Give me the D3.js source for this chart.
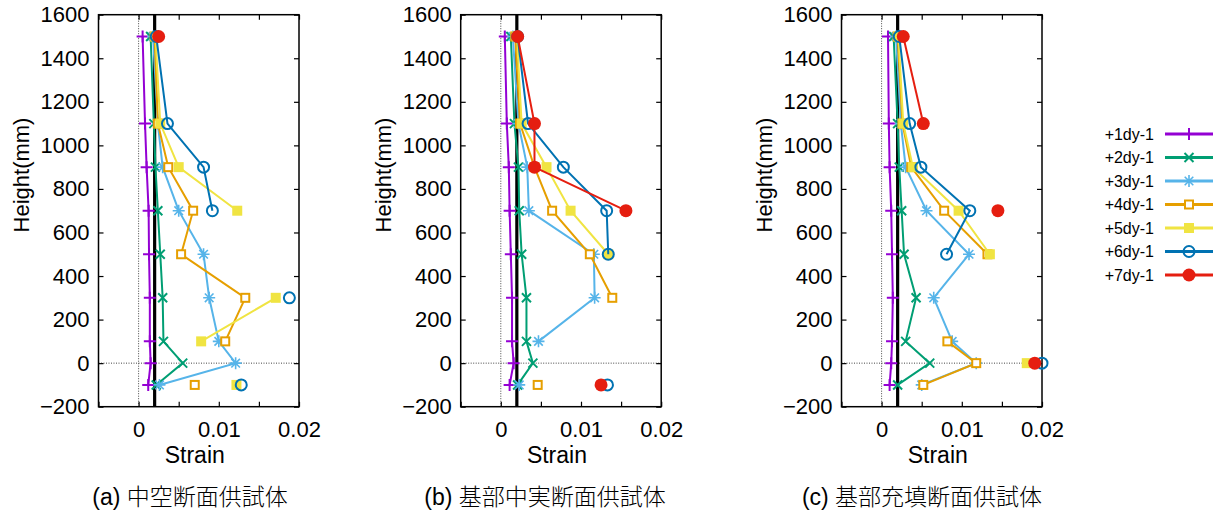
<!DOCTYPE html>
<html>
<head>
<meta charset="utf-8">
<script src="https://cdn.jsdelivr.net/npm/d3@7"></script>
<style>
  html, body { margin: 0; padding: 0; background: #fff; }
  svg { display: block; }
  text { font-family: "Liberation Sans", Arial, "Noto Sans CJK JP", sans-serif; fill: #000; }
  .caption { font-weight: 300; }
</style>
</head>
<body>
<script>
// ---- data ----
const heights = [1500, 1100, 900, 700, 500, 300, 100, 0, -100];
const seriesNames = ["+1dy-1", "+2dy-1", "+3dy-1", "+4dy-1", "+5dy-1", "+6dy-1", "+7dy-1"];
const yTickValues = [-200, 0, 200, 400, 600, 800, 1000, 1200, 1400, 1600];
const xTickValues = [-0.005, 0, 0.005, 0.01, 0.015, 0.02];
const xTickLabels = ["", "0", "", "0.01", "", "0.02"];
const yieldStrain = 0.002;

// (a) 中空断面供試体
const strainA = [
  [0.0005, 0.0008, 0.001, 0.00125, 0.0013, 0.0014, 0.0014, 0.0015, 0.0012],
  [0.0015, 0.0019, 0.0021, 0.0024, 0.0027, 0.003, 0.0031, 0.0055, 0.0022],
  [0.0018, 0.0024, 0.003, 0.005, 0.0081, 0.0088, 0.01, 0.0121, 0.0026],
  [0.002, 0.0024, 0.0037, 0.0068, 0.0053, 0.0133, 0.0108, null, 0.007],
  [0.0021, 0.0027, 0.005, 0.0123, null, 0.0171, 0.0078, null, 0.0122],
  [0.0022, 0.0036, 0.0081, 0.0092, null, 0.0188, null, null, 0.0128],
  [0.0025, null, null, null, null, null, null, null, null]
];
// (b) 基部中実断面供試体
const strainB = [
  [0.0005, 0.00075, 0.001, 0.0011, 0.00125, 0.0014, 0.0014, 0.0016, 0.0011],
  [0.00125, 0.0017, 0.0022, 0.0023, 0.0026, 0.0032, 0.0032, 0.004, 0.0021],
  [0.0015, 0.0022, 0.0033, 0.0035, 0.0116, 0.0117, 0.0047, null, 0.0023],
  [0.0018, 0.0024, 0.0042, 0.0064, 0.0111, 0.0139, null, null, 0.0046],
  [0.002, 0.0026, 0.0057, 0.0087, 0.0134, null, null, null, null],
  [0.0021, 0.0034, 0.0078, 0.0132, 0.0134, null, null, null, 0.0133],
  [0.0021, 0.0042, 0.0042, 0.0156, null, null, null, null, 0.0125]
];
// (c) 基部充填断面供試体
const strainC = [
  [0.0008, 0.0009, 0.001, 0.0012, 0.0013, 0.0014, 0.0013, 0.0012, 0.001],
  [0.0015, 0.002, 0.0022, 0.0025, 0.0028, 0.0043, 0.003, 0.006, 0.002],
  [0.0018, 0.0024, 0.003, 0.0056, 0.0109, 0.0065, 0.0088, 0.0118, 0.005],
  [0.002, 0.0026, 0.0037, 0.0078, 0.0132, null, 0.0082, 0.0118, 0.0052],
  [0.0021, 0.0027, 0.0039, 0.0096, 0.0135, null, null, 0.0181, null],
  [0.0022, 0.0035, 0.0049, 0.011, 0.0081, null, null, 0.02, null],
  [0.0027, 0.0052, null, 0.0145, null, null, null, 0.0191, null]
];
const panelData = [strainA, strainB, strainC];
const panelTitles = ["(a) 中空断面供試体", "(b) 基部中実断面供試体", "(c) 基部充填断面供試体"];

// ---- styles / layout ----
const colors = ["#9400d3", "#009e73", "#56b4e9", "#e69f00", "#f0e442", "#0072b2", "#e51e10"];
const width = 1221, height = 513;
const panelLeft = [98.5, 460.7, 841.5];
const titleX = [190, 545, 922];
const plotW = 200.5, plotTop = 14.7, plotH = 392;

const svg = d3.select("body").append("svg")
  .attr("width", width)
  .attr("height", height)
  .attr("viewBox", [0, 0, width, height]);

// marker drawing (gnuplot style point types 1..7)
function drawMarker(g, type, color) {
  const sw = 2;
  if (type === 0) { // plus
    g.append("path").attr("d", "M-6,0H6M0,-6V6").attr("stroke", color).attr("stroke-width", sw).attr("fill", "none");
  } else if (type === 1) { // cross
    g.append("path").attr("d", "M-4.5,-4.5L4.5,4.5M-4.5,4.5L4.5,-4.5").attr("stroke", color).attr("stroke-width", sw).attr("fill", "none");
  } else if (type === 2) { // star
    g.append("path").attr("d", "M-6,0H6M0,-6V6M-4.3,-4.3L4.3,4.3M-4.3,4.3L4.3,-4.3").attr("stroke", color).attr("stroke-width", 1.6).attr("fill", "none");
  } else if (type === 3) { // open square
    g.append("rect").attr("x", -4).attr("y", -4).attr("width", 8).attr("height", 8)
      .attr("stroke", color).attr("stroke-width", sw).attr("fill", "#fff");
  } else if (type === 4) { // filled square
    g.append("rect").attr("x", -5).attr("y", -5).attr("width", 10).attr("height", 10).attr("fill", color);
  } else if (type === 5) { // open circle
    g.append("circle").attr("r", 5.5).attr("stroke", color).attr("stroke-width", sw).attr("fill", "none");
  } else { // filled circle
    g.append("circle").attr("r", 6.5).attr("fill", color);
  }
}

panelData.forEach((series, pi) => {
  const x0 = panelLeft[pi];
  const x = d3.scaleLinear().domain([-0.005, 0.02]).range([x0, x0 + plotW]);
  const y = d3.scaleLinear().domain([-200, 1600]).range([plotTop + plotH, plotTop]);
  const g = svg.append("g").attr("class", "panel");

  // zero reference lines (dotted)
  g.append("line")
    .attr("x1", x(0)).attr("x2", x(0)).attr("y1", y(-200)).attr("y2", y(1600))
    .attr("stroke", "#444").attr("stroke-width", 1).attr("stroke-dasharray", "1,1.5");
  g.append("line")
    .attr("x1", x(-0.005)).attr("x2", x(0.02)).attr("y1", y(0)).attr("y2", y(0))
    .attr("stroke", "#444").attr("stroke-width", 1).attr("stroke-dasharray", "1,1.5");

  // yield strain line
  g.append("line")
    .attr("x1", x(yieldStrain)).attr("x2", x(yieldStrain)).attr("y1", y(-200)).attr("y2", y(1600))
    .attr("stroke", "#000").attr("stroke-width", 3.2);

  // axes (ticks inside)
  const fmtX = d => {
    const i = xTickValues.findIndex(v => Math.abs(v - d) < 1e-9);
    return i >= 0 ? xTickLabels[i] : "";
  };
  const axB = g.append("g").attr("transform", `translate(0,${y(-200)})`)
    .call(d3.axisBottom(x).tickValues(xTickValues).tickSize(-5).tickPadding(15).tickFormat(fmtX));
  const axL = g.append("g").attr("transform", `translate(${x(-0.005)},0)`)
    .call(d3.axisLeft(y).tickValues(yTickValues).tickSize(-5).tickPadding(9).tickFormat(d3.format("d")));
  g.append("g").attr("transform", `translate(0,${y(1600)})`)
    .call(d3.axisTop(x).tickValues(xTickValues).tickSize(-5).tickFormat(""));
  g.append("g").attr("transform", `translate(${x(0.02)},0)`)
    .call(d3.axisRight(y).tickValues(yTickValues).tickSize(-5).tickFormat(""));
  g.selectAll(".domain").remove();
  g.selectAll(".tick line").attr("stroke", "#000").attr("stroke-width", 1.2);
  axB.selectAll("text").style("font-size", "22px").attr("font-family", null);
  axL.selectAll("text").style("font-size", "22px").attr("font-family", null);

  g.append("rect")
    .attr("x", x(-0.005)).attr("y", y(1600))
    .attr("width", x(0.02) - x(-0.005)).attr("height", y(-200) - y(1600))
    .attr("fill", "none").attr("stroke", "#000").attr("stroke-width", 1.5);

  // data series
  const line = d3.line()
    .defined(d => d.v != null)
    .x(d => x(d.v))
    .y(d => y(d.h));

  series.forEach((vals, si) => {
    const pts = vals.map((v, i) => ({ v: v, h: heights[i] }));
    const sg = g.append("g").attr("class", "series");
    sg.append("path")
      .datum(pts)
      .attr("d", line)
      .attr("fill", "none")
      .attr("stroke", colors[si])
      .attr("stroke-width", 2);
    sg.selectAll(".pt")
      .data(pts.filter(d => d.v != null))
      .enter()
      .append("g")
      .attr("class", "pt")
      .attr("transform", d => `translate(${x(d.v)},${y(d.h)})`)
      .each(function() { drawMarker(d3.select(this), si, colors[si]); });
  });

  // axis titles
  g.append("text")
    .attr("x", (x(-0.005) + x(0.02)) / 2 - 4)
    .attr("y", 463)
    .attr("text-anchor", "middle")
    .style("font-size", "23px")
    .text("Strain");
  g.append("text")
    .attr("transform", `translate(${x0 - 70},175) rotate(-90)`)
    .attr("text-anchor", "middle")
    .style("font-size", "22px")
    .text("Height(mm)");

  // panel caption
  svg.append("text")
    .attr("class", "caption")
    .attr("x", titleX[pi])
    .attr("y", 505)
    .attr("text-anchor", "middle")
    .style("font-size", "23px")
    .text(panelTitles[pi]);
});

// legend
const legend = svg.append("g").attr("class", "legend");
seriesNames.forEach((name, si) => {
  const ly = 134 + si * 23.5;
  legend.append("text")
    .attr("x", 1154).attr("y", ly).attr("dy", "0.35em")
    .attr("text-anchor", "end")
    .style("font-size", "16px")
    .text(name);
  legend.append("line")
    .attr("x1", 1165).attr("x2", 1213).attr("y1", ly).attr("y2", ly)
    .attr("stroke", colors[si]).attr("stroke-width", 3);
  const mg = legend.append("g").attr("transform", `translate(1189,${ly})`);
  drawMarker(mg, si, colors[si]);
});
</script>
</body>
</html>
